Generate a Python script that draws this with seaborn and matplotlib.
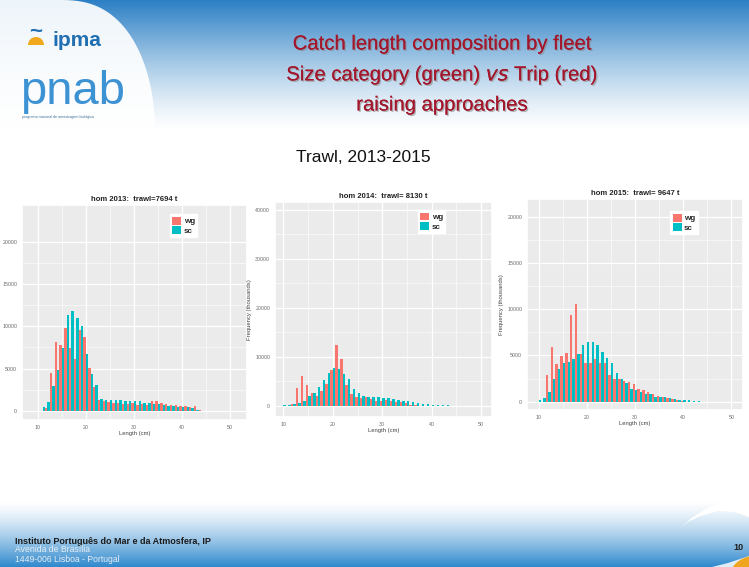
import numpy as np
import pandas as pd
import matplotlib
matplotlib.use('Agg')
import matplotlib.pyplot as plt
import matplotlib.patheffects as pe
from matplotlib.patches import Polygon, Wedge
import seaborn as sns

# Dados: comprimento (cm) e frequencia (milhares) por metodo
comp_2013 = list(range(11, 46))
wg_2013 = [0, 300, 4500, 8200, 7800, 9800, 7400, 6100, 9600, 8800,
           5100, 2800, 1300, 1100, 1000, 900, 900, 800, 800, 900,
           700, 800, 700, 1100, 1100, 900, 800, 700, 700, 600,
           600, 400, 600, 100, 0]
sc_2013 = [400, 1000, 2900, 4800, 7400, 11300, 11800, 11000, 10100, 6700,
           4300, 3000, 1400, 1300, 1300, 1300, 1300, 1200, 1200, 1100,
           1100, 900, 900, 800, 800, 700, 600, 600, 500, 500,
           400, 300, 100, 0, 0]

comp_2014 = list(range(10, 44))
wg_2014 = [0, 0, 400, 3700, 6000, 4200, 2700, 2000, 3000, 4500,
           7200, 12500, 9500, 4200, 2300, 1700, 1500, 1700, 1300, 1000,
           900, 1100, 1000, 800, 700, 500, 200, 100, 0, 0,
           0, 0, 0, 0]
sc_2014 = [200, 200, 300, 500, 1000, 2000, 2700, 3800, 5200, 6700,
           7700, 7600, 6500, 5500, 3500, 2500, 1900, 1800, 1800, 1800,
           1500, 1500, 1300, 1100, 1000, 900, 700, 500, 400, 300,
           200, 200, 150, 150]

comp_2015 = list(range(10, 44))
wg_2015 = [0, 0, 2900, 5900, 4100, 4900, 5300, 9400, 10600, 5200,
           4200, 4200, 4600, 4200, 4200, 2900, 2400, 2400, 2200, 2100,
           1900, 1400, 1300, 1000, 800, 650, 550, 430, 300, 200,
           100, 0, 0, 0]
sc_2015 = [200, 400, 1000, 2400, 3500, 4200, 4300, 4600, 5200, 6100,
           6400, 6400, 6100, 5400, 4700, 4200, 3100, 2400, 2000, 1400,
           1300, 1000, 800, 800, 500, 550, 470, 360, 300, 200,
           200, 150, 100, 100]

titulos = ['hom 2013:  trawl=7694 t', 'hom 2014:  trawl= 8130 t', 'hom 2015:  trawl= 9647 t']
paleta = {'wg': '#F8766D', 'sc': '#00BFC4'}

sns.set_theme(style='darkgrid', rc={'axes.facecolor': '#EBEBEB', 'grid.color': 'white'})
plt.rcParams['font.family'] = ['Liberation Sans', 'DejaVu Sans']

fig = plt.figure(figsize=(7.49, 5.67), dpi=100)
fig.patch.set_facecolor('white')

# Fundo do diapositivo (gradiente azul em cima e em baixo)
bg = fig.add_axes([0, 0, 1, 1], zorder=-10)
H, W = 567, 749
yy = np.arange(H)
topo = np.array([0.17, 0.50, 0.77])
base = np.array([0.17, 0.53, 0.80])
t_top = np.clip(1 - yy / 130.0, 0, 1) ** 1.3
t_bot = np.clip((yy - 500) / 67.0, 0, 1) ** 1.4
img = np.ones((H, 1, 3))
for i in range(3):
    img[:, 0, i] = 1 - t_top * (1 - topo[i]) - t_bot * (1 - base[i])
bg.imshow(img, extent=[0, W, H, 0], aspect='auto')
bg.set_xlim(0, W)
bg.set_ylim(H, 0)
bg.axis('off')

# curva branca do logotipo
ang = np.linspace(0, np.pi / 2, 40)
pts = [(0, 0)] + [(60 + 95 * np.sin(a) ** 0.8, 130 * (1 - np.cos(a))) for a in ang] + [(0, 135)]
bg.add_patch(Polygon(pts, closed=True, color='white', alpha=0.92, lw=0))
bg.text(52, 40, 'ipma', fontsize=15, color='#1f6fb2', ha='left', va='center', fontweight='bold')
bg.add_patch(Wedge((36, 45), 8, 180, 360, color='#f0a81c', lw=0))
bg.text(36, 33, '~', fontsize=16, color='#1f6fb2', ha='center', va='center', fontweight='bold')
bg.text(20, 92, 'pnab', fontsize=34, color='#3d92d4', ha='left', va='center')
bg.text(22, 117, 'programa nacional de amostragem biológica', fontsize=2.6, color='#3d6f9a', ha='left', va='center')

# onda branca e laranja em baixo a direita
onda = [(680, 528), (693, 517), (708, 508), (726, 501), (749, 497),
        (749, 517), (735, 512), (718, 511), (700, 516), (688, 522)]
bg.add_patch(Polygon(onda, closed=True, color='white', lw=0))
bg.add_patch(Polygon([(712, 567), (728, 563), (740, 559), (749, 556), (749, 567)],
                     closed=True, color='white', alpha=0.85, lw=0))
bg.add_patch(Wedge((754, 582), 26, 180, 270, color='#f0a51e', lw=0))

# Titulo do diapositivo
sombra = [pe.withSimplePatchShadow(offset=(1, -1), shadow_rgbFace='#888888', alpha=0.6), pe.Normal()]
cor_tit = '#a3162b'
bg.text(442, 44, 'Catch length composition by fleet', fontsize=14.6, color=cor_tit,
        ha='center', va='center', path_effects=sombra)
bg.text(442, 75, 'Size category (green) $\\mathit{vs}$ Trip (red)', fontsize=14.6, color=cor_tit,
        ha='center', va='center', path_effects=sombra)
bg.text(442, 105, 'raising approaches', fontsize=14.6, color=cor_tit,
        ha='center', va='center', path_effects=sombra)
bg.text(363, 158, 'Trawl, 2013-2015', fontsize=12.5, color='#111111', ha='center', va='center')

# Rodape
bg.text(15, 541, 'Instituto Português do Mar e da Atmosfera, IP', fontsize=6.5, color='#1a1a1a',
        fontweight='bold', ha='left', va='center')
bg.text(15, 550, 'Avenida de Brasília', fontsize=6.2, color='#e6edf4', ha='left', va='center')
bg.text(15, 559, '1449-006 Lisboa - Portugal', fontsize=6.2, color='#e6edf4', ha='left', va='center')
bg.text(738, 548, '10', fontsize=6.5, color='#222222', fontweight='bold', ha='center', va='center')

# Graficos
paineis = [
    (comp_2013, wg_2013, sc_2013, [22, 205, 247, 420], (6.7, 53.6), (-1100, 24400), [0, 5000, 10000, 15000, 20000], False, (0.64, 0.975)),
    (comp_2014, wg_2014, sc_2014, [275, 202, 492, 417], (8.3, 52.2), (-2300, 41600), [0, 10000, 20000, 30000, 40000], True, (0.64, 0.98)),
    (comp_2015, wg_2015, sc_2015, [527, 199, 743, 410], (7.6, 52.4), (-900, 21900), [0, 5000, 10000, 15000, 20000], True, (0.645, 0.96)),
]

for (comp, wg, sc, caixa, xlim, ylim, yticks, ylab, leg_pos), titulo in zip(paineis, titulos):
    x0, y0, x1, y1 = caixa
    ax = fig.add_axes([x0 / W, 1 - y1 / H, (x1 - x0) / W, (y1 - y0) / H])
    df = pd.DataFrame({
        'Length': comp + comp,
        'Freq': wg + sc,
        'metodo': ['wg'] * len(comp) + ['sc'] * len(comp),
    })
    sns.barplot(data=df, x='Length', y='Freq', hue='metodo', hue_order=['wg', 'sc'],
                palette=paleta, native_scale=True, width=1.0, dodge=True,
                saturation=1, linewidth=0, ax=ax)
    ax.set_xlim(*xlim)
    ax.set_ylim(*ylim)
    ax.set_xticks([10, 20, 30, 40, 50])
    ax.set_xticks([15, 25, 35, 45], minor=True)
    ax.set_yticks(yticks)
    ax.set_yticks([(a + b) / 2 for a, b in zip(yticks[:-1], yticks[1:])], minor=True)
    ax.grid(which='major', color='white', lw=0.9)
    ax.grid(which='minor', color='white', lw=0.4)
    ax.tick_params(which='major', length=2, width=0.5, color='#555555', labelsize=3.8,
                   labelcolor='#6a6a6a', pad=1.5)
    ax.tick_params(which='minor', length=0)
    ax.set_title(titulo, fontsize=5.5, fontweight='bold', color='#222222', pad=3)
    ax.set_xlabel('Length (cm)', fontsize=4.2, color='#444444', labelpad=1)
    if ylab:
        ax.set_ylabel('Frequency (thousands)', fontsize=4.2, color='#444444', labelpad=2)
    else:
        ax.set_ylabel('')
    sns.move_legend(ax, 'upper left', bbox_to_anchor=leg_pos, title=None, frameon=True,
                    fontsize=5.8, handlelength=1.1, handleheight=1.1, handletextpad=0.3,
                    borderpad=0.3, labelspacing=0.1, facecolor='white', edgecolor='white',
                    framealpha=1, fancybox=False)
    for t in ax.get_legend().get_texts():
        t.set_fontweight('bold')

fig.savefig('out.png', dpi=100)
